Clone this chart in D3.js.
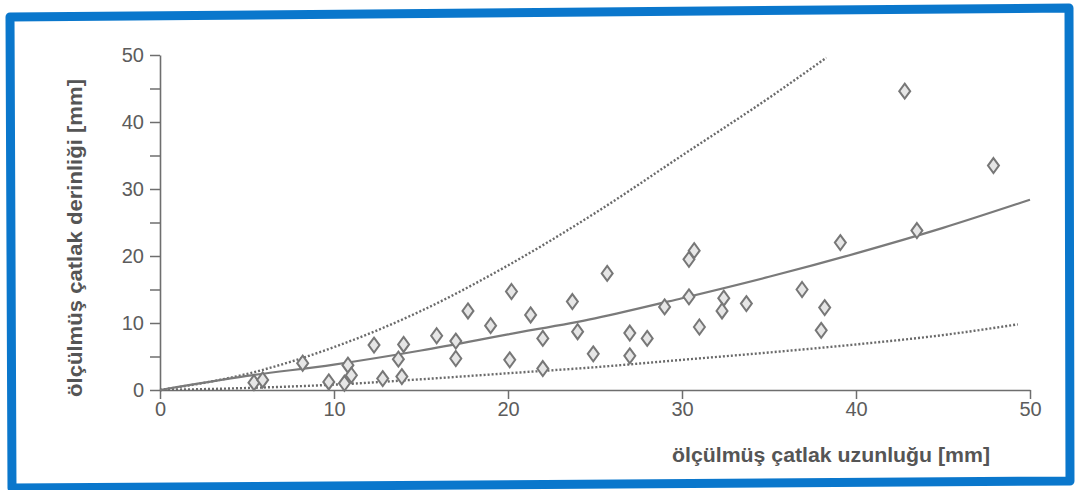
<!DOCTYPE html>
<html><head><meta charset="utf-8">
<script src="https://cdn.jsdelivr.net/npm/d3@7"></script>
<style>
html,body{margin:0;padding:0;background:#fff;}
svg{display:block;font-family:"Liberation Sans",Arial,sans-serif;}
</style></head>
<body><svg id="chart" width="1075" height="490"></svg>
<script>
// ---- data ----
const xTicks = [0, 10, 20, 30, 40, 50];
const yTicks = [0, 5, 10, 15, 20, 25, 30, 35, 40, 45, 50];
const yTickLabels = ["0", "", "10", "", "20", "", "30", "", "40", "", "50"];
const xTitle = "ölçülmüş çatlak uzunluğu [mm]";
const yTitle = "ölçülmüş çatlak derinliği [mm]";

// measured points: crack length (x) and crack depth (y)
const crackLength = [5.4, 5.9, 8.2, 9.7, 10.6, 10.8, 11.0, 12.3, 12.8, 13.7, 13.9, 14.0,
  15.9, 17.0, 17.0, 17.7, 19.0, 20.1, 20.2, 21.3, 22.0, 22.0, 23.7, 24.0, 24.9, 25.7,
  27.0, 27.0, 28.0, 29.0, 30.4, 30.4, 30.7, 31.0, 32.4, 32.3, 33.7, 36.9, 38.0, 38.2,
  39.1, 42.8, 43.5, 47.9];
const crackDepth = [1.1, 1.5, 4.0, 1.2, 1.0, 3.7, 2.2, 6.7, 1.7, 4.6, 2.0, 6.8,
  8.1, 7.3, 4.7, 11.8, 9.6, 4.5, 14.7, 11.2, 7.7, 3.2, 13.2, 8.7, 5.4, 17.4,
  8.5, 5.1, 7.7, 12.4, 13.9, 19.5, 20.8, 9.4, 13.7, 11.8, 12.9, 15.0, 8.9, 12.3,
  22.0, 44.6, 23.8, 33.5];

// fitted curves, points
const meanX  = [0, 5, 10, 15, 20, 25, 30, 35, 40, 45, 50];
const meanY  = [0, 2.1, 3.8, 5.9, 8.3, 10.7, 13.7, 16.9, 20.4, 24.2, 28.4];
const upperX = [0, 5, 10, 15, 20, 25, 30, 35, 38.3];
const upperY = [0, 2.4, 6.4, 11.8, 18.6, 26.4, 35.0, 43.6, 49.6];
const lowerX = [0, 5, 10, 15, 20, 25, 30, 35, 40, 45, 49.3];
const lowerY = [0, 0.3, 0.8, 1.6, 2.5, 3.4, 4.5, 5.6, 6.8, 8.2, 9.8];

// ---- drawing ----
const svg = d3.select("#chart");
const gray = "#6e6e6e";

// blue frame (slightly skewed like the photographed original)
svg.append("path")
  .attr("d", "M10,17 L1069,8 L1070,481 L12,488 Z")
  .attr("fill", "#fff")
  .attr("stroke", "#0a77cc")
  .attr("stroke-width", 9)
  .attr("stroke-linejoin", "round");

const x = d3.scaleLinear().domain([0, 50]).range([160, 1030]);
const y = d3.scaleLinear().domain([0, 50]).range([390, 55]);

// y axis
const yAxis = svg.append("g")
  .attr("transform", `translate(${x(0)},0)`)
  .call(d3.axisLeft(y).tickValues(yTicks)
    .tickFormat((d, i) => yTickLabels[i]).tickSize(10).tickSizeOuter(0).tickPadding(6));
// x axis
const xAxis = svg.append("g")
  .attr("transform", `translate(0,${y(0)})`)
  .call(d3.axisBottom(x).tickValues(xTicks).tickSize(9).tickSizeOuter(0).tickPadding(3));

[xAxis, yAxis].forEach(g => {
  g.select(".domain").attr("stroke", gray).attr("stroke-width", 1.6);
  g.selectAll(".tick line").attr("stroke", gray).attr("stroke-width", 1.5);
  g.selectAll(".tick text").attr("fill", "#5c5c5c")
    .style("font-size", "20px").style("font-family", '"Liberation Sans",Arial,sans-serif');
});

// curves
const line = d3.line().x(d => x(d[0])).y(d => y(d[1])).curve(d3.curveMonotoneX);
const zip = (a, b) => a.map((v, i) => [v, b[i]]);

svg.append("path").datum(zip(upperX, upperY)).attr("d", line)
  .attr("fill", "none").attr("stroke", "#6a6a6a").attr("stroke-width", 2.4)
  .attr("stroke-dasharray", "2,2");
svg.append("path").datum(zip(lowerX, lowerY)).attr("d", line)
  .attr("fill", "none").attr("stroke", "#6a6a6a").attr("stroke-width", 2.4)
  .attr("stroke-dasharray", "2,2");
svg.append("path").datum(zip(meanX, meanY)).attr("d", line)
  .attr("fill", "none").attr("stroke", "#7a7a7a").attr("stroke-width", 2.2);

// diamonds
const diamond = "M0,-7.5 L5.5,0 L0,7.5 L-5.5,0 Z";
svg.append("g").selectAll("path")
  .data(zip(crackLength, crackDepth))
  .join("path")
  .attr("d", diamond)
  .attr("transform", d => `translate(${x(d[0])},${y(d[1])})`)
  .attr("fill", "#e6e6e6")
  .attr("stroke", "#777")
  .attr("stroke-width", 2);

// axis titles
svg.append("text")
  .attr("x", 831).attr("y", 462)
  .attr("text-anchor", "middle")
  .attr("fill", "#555").attr("font-weight", "bold")
  .attr("textLength", 318).attr("lengthAdjust", "spacingAndGlyphs")
  .style("font-size", "20px")
  .text(xTitle);
svg.append("text")
  .attr("transform", "translate(82,238) rotate(-90)")
  .attr("text-anchor", "middle")
  .attr("fill", "#555").attr("font-weight", "bold")
  .attr("textLength", 318).attr("lengthAdjust", "spacingAndGlyphs")
  .style("font-size", "20px")
  .text(yTitle);
</script>
</body></html>
